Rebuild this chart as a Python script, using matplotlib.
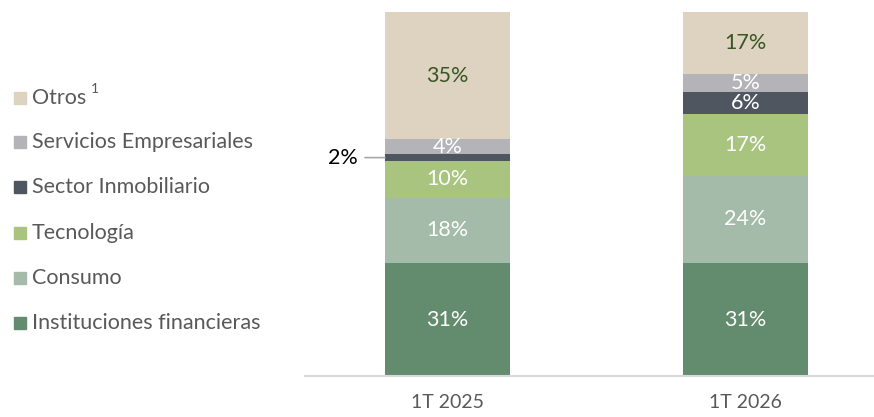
import numpy as np
import matplotlib.pyplot as plt
from matplotlib.patches import Rectangle

plt.rcParams['font.family'] = ['Lato', 'DejaVu Sans']

# data
periods = ['1T 2025', '1T 2026']
sectors = ['Instituciones financieras', 'Consumo', 'Tecnología',
           'Sector Inmobiliario', 'Servicios Empresariales', 'Otros']
values = {
    'Instituciones financieras': [31, 31],
    'Consumo': [18, 24],
    'Tecnología': [10, 17],
    'Sector Inmobiliario': [2, 6],
    'Servicios Empresariales': [4, 5],
    'Otros': [35, 17],
}
colors = ['#638c6e', '#a3bba8', '#a9c47f', '#4f5660', '#b4b3b8', '#ddd3c0']
label_colors = ['white', 'white', 'white', 'white', 'white', '#375623']

W, H = 874, 417
fig = plt.figure(figsize=(W / 100, H / 100), dpi=100)
ax = fig.add_axes([305 / W, (H - 376) / H, (W - 305) / W, 364 / H])

x = np.arange(len(periods))
bottom = np.zeros(len(periods))
for name, col, lc in zip(sectors, colors, label_colors):
    v = np.array(values[name], dtype=float)
    ax.bar(x, v, bottom=bottom, width=0.42, color=col, edgecolor='none')
    for xi, vi, bi in zip(x, v, bottom):
        if name == 'Sector Inmobiliario' and vi < 3:
            # small slice labelled outside with a leader line
            yc = bi + vi / 2
            ax.annotate('%d%%' % vi, xy=(xi - 0.21, yc), xytext=(xi - 0.30, yc),
                        ha='right', va='center', fontsize=15.5, color='black',
                        arrowprops=dict(arrowstyle='-', color='#a6a6a6', lw=1.2,
                                        shrinkA=3, shrinkB=0))
            continue
        ax.text(xi, bi + vi / 2, '%d%%' % vi, ha='center', va='center',
                fontsize=15.5, color=lc)
    bottom += v

ax.set_xlim(-0.478, 1.431)
ax.set_ylim(0, 100)
ax.set_yticks([])
ax.set_xticks(x)
ax.set_xticklabels(periods, fontsize=14, color='#595959')
ax.tick_params(axis='x', length=0, pad=13)
for s in ['top', 'right', 'left']:
    ax.spines[s].set_visible(False)
ax.spines['bottom'].set_color('#d9d9d9')
ax.spines['bottom'].set_linewidth(1.5)

# legend drawn on the figure
leg_y = [323, 278, 233, 187, 142, 98]
for name, col, yy in zip(sectors, colors, leg_y):
    fig.patches.append(Rectangle((14 / W, (H - yy - 6) / H), 12 / W, 12 / H,
                                 color=col, transform=fig.transFigure))
    fig.text(32 / W, (H - yy) / H, name, fontsize=15.5, color='#595959',
             va='center', ha='left')
fig.text(91 / W, (H - 89) / H, '1', fontsize=10, color='#595959',
         va='center', ha='left')

fig.savefig('out.png', dpi=100)
